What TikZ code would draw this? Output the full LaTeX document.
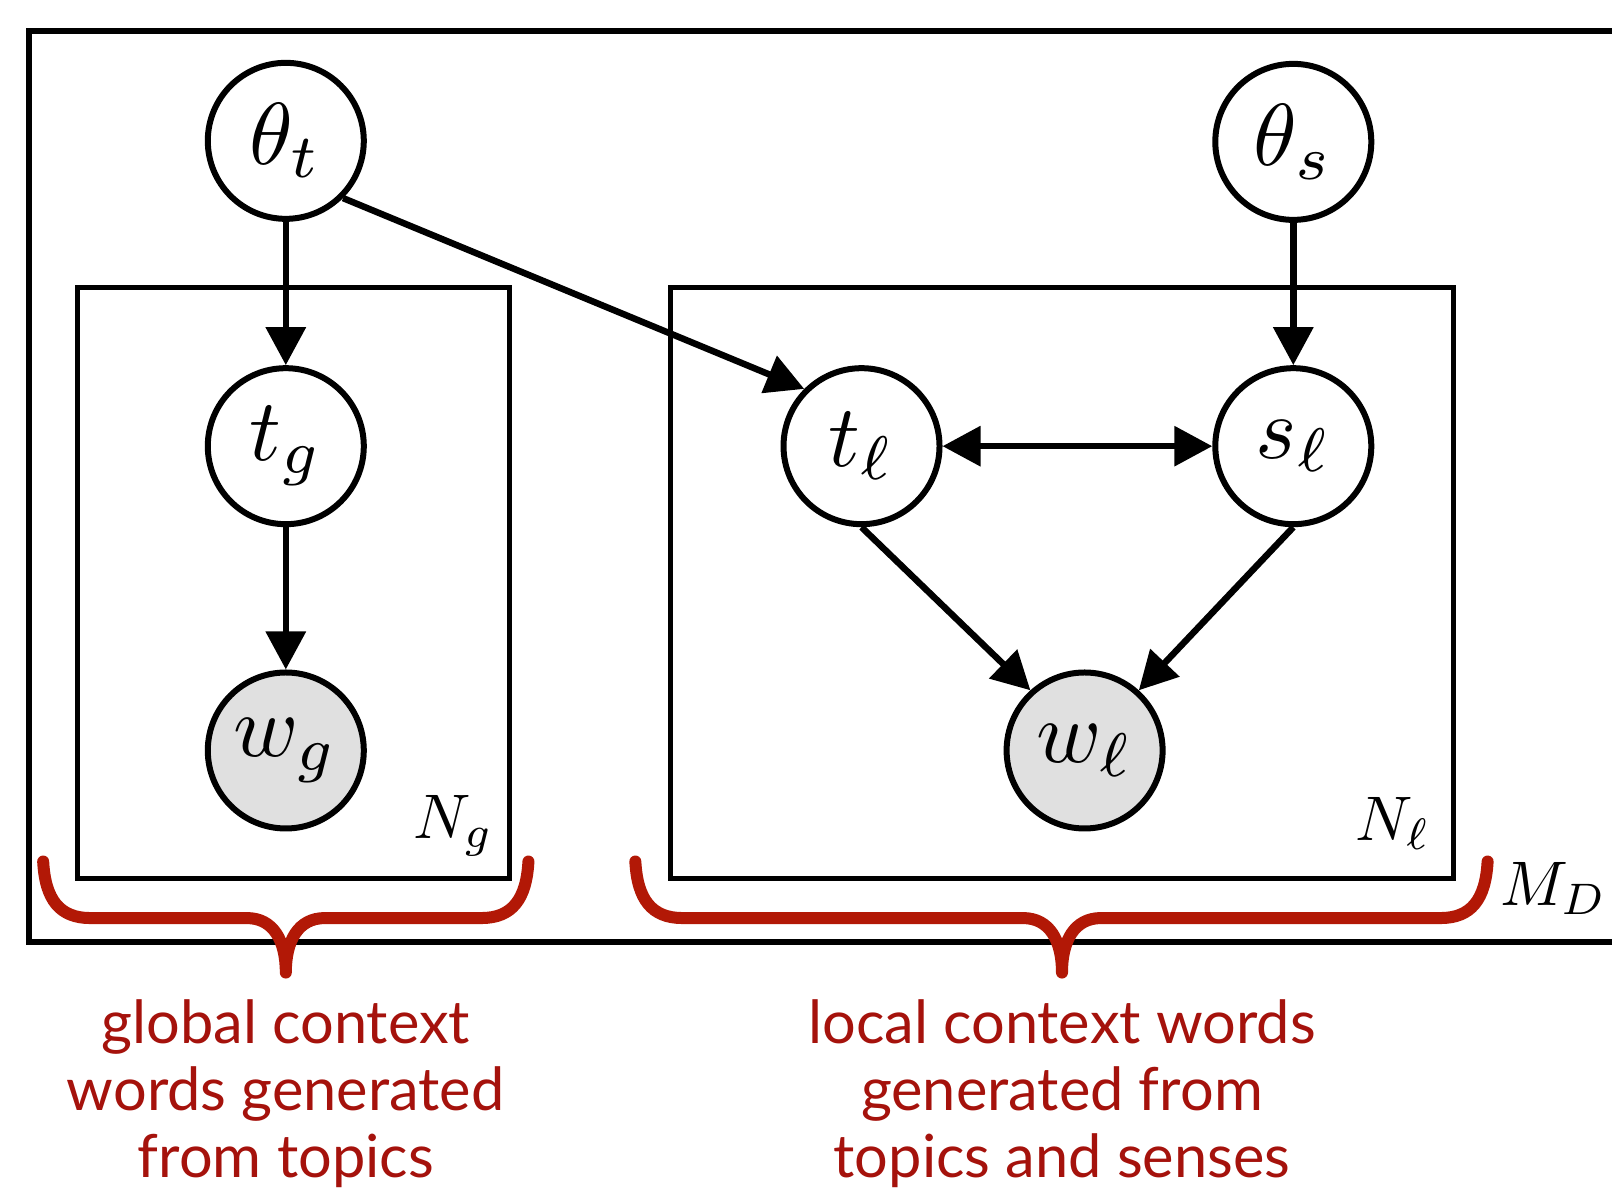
\documentclass[tikz,border=0pt]{standalone}
\usepackage{graphicx}
\usepackage{fontspec}
\setmainfont{Lato}
\usetikzlibrary{arrows.meta}
\definecolor{capred}{RGB}{165,18,12}
\definecolor{bracered}{RGB}{178,24,6}
\definecolor{obsgray}{RGB}{224,224,224}
\newcommand{\nodemath}[1]{\scalebox{8.8}{$#1$}}
\newcommand{\platemath}[1]{\scalebox{6.3}{$#1$}}
\begin{document}
\begin{tikzpicture}[x=1.02806pt,y=-1.02806pt,
  var/.style={circle,draw,line width=6pt,minimum size=156pt,inner sep=0pt,fill=white},
  obs/.style={var,fill=obsgray},
  plate/.style={draw,line width=5pt},
  edge/.style={line width=6.5pt,-{Triangle[length=38pt,width=39pt]}},
  platelabel/.style={inner sep=0pt},
  brace/.style={draw=bracered,line width=12pt,line cap=round,line join=round},
  caption/.style={align=center,text=capred,font=\fontsize{59.5}{67}\selectfont,inner sep=0pt}]
\useasboundingbox[fill=white] (0,0) rectangle (1568,1157);
% outer plate (open on the right)
\draw[plate,line width=6pt] (1600,30) -- (28,30) -- (28,916) -- (1600,916);
% inner plates
\draw[plate] (75,280) rectangle (496,855);
\draw[plate] (652,280) rectangle (1414,855);
% nodes
\node[var] (thetat) at (278,137) {\nodemath{\theta_t}};
\node[var] (tg) at (278,434) {\nodemath{t_g}};
\node[obs] (wg) at (278,730) {\nodemath{w_g}};
\node[var] (tl) at (838,434) {\nodemath{t_\ell}};
\node[var] (sl) at (1258,434) {\nodemath{s_\ell}};
\node[var] (thetas) at (1258,138) {\nodemath{\theta_s}};
\node[obs] (wl) at (1055,730) {\nodemath{w_\ell}};
% plate labels
\node[platelabel] (Ng) at (441,803) {\platemath{N_g}};
\node[platelabel] (Nl) at (1355,801) {\platemath{N_\ell}};
\node[platelabel] (MD) at (1511,864) {\platemath{M_D}};
% edges
\draw[edge] (thetat) -- (tg);
\draw[edge] (tg) -- (wg);
\draw[edge] (thetat.-45) -- (tl.135);
\draw[edge] (thetas) -- (sl);
\draw[line width=6.5pt,{Triangle[length=38pt,width=39pt]}-{Triangle[length=38pt,width=39pt]}] (tl) -- (sl);
\draw[edge] (tl.south) -- (wl.132);
\draw[edge] (sl.south) -- (wl.48);
% braces
\draw[brace] (42,838) .. controls (44,875) and (58,893) .. (88,893) -- (240,893)
  .. controls (266,893) and (278,915) .. (278,946)
  .. controls (278,915) and (290,893) .. (316,893) -- (468,893)
  .. controls (498,893) and (512,875) .. (514,838);
\draw[brace] (618,838) .. controls (620,875) and (634,893) .. (664,893) -- (995,893)
  .. controls (1021,893) and (1033,915) .. (1033,946)
  .. controls (1033,915) and (1045,893) .. (1071,893) -- (1401,893)
  .. controls (1431,893) and (1445,875) .. (1447,838);
% captions
\node[caption] (capg) at (278,1064) {global context\\words generated\\from topics};
\node[caption] (capl) at (1033,1064) {local context words\\generated from\\topics and senses};
\end{tikzpicture}
\end{document}
